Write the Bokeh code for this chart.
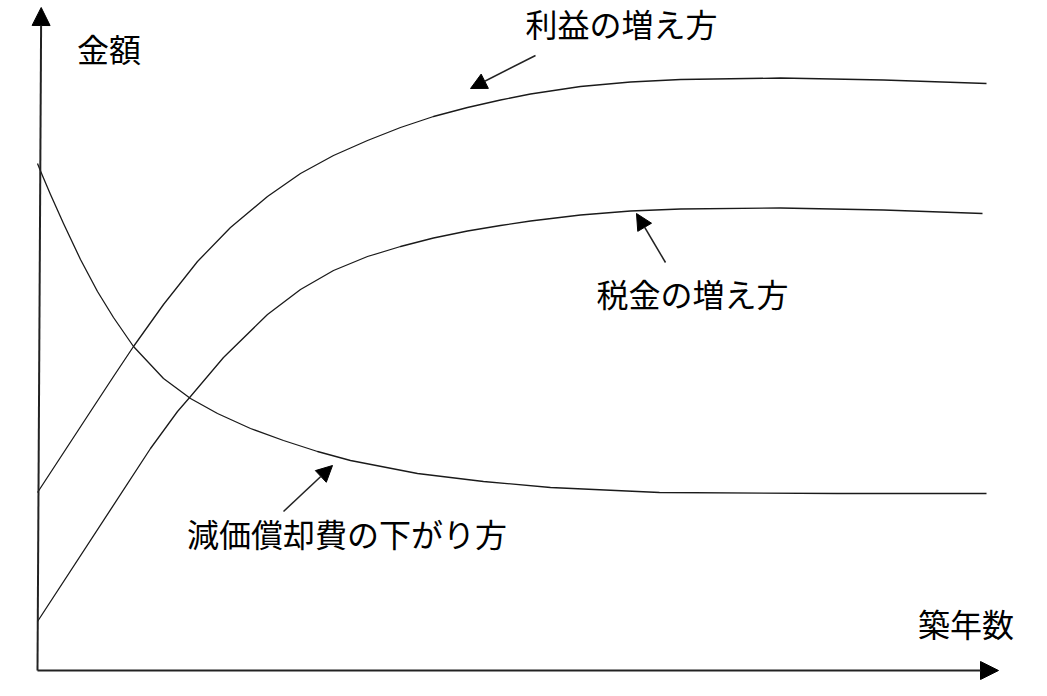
from bokeh.plotting import figure
from bokeh.models import Range1d, Arrow, NormalHead, ColumnDataSource
from bokeh.core.properties import value
from bokeh.embed import file_html
from bokeh.resources import INLINE

# ---- data (schematic units: x = building age, y = amount) ----
profit_x = [0, 53, 76, 96, 126, 160, 193, 230, 263, 296, 330, 363, 396, 430, 463, 493, 543, 593, 643, 743, 846, 949]
profit_y = [178, 259, 294, 324, 366, 409, 443, 474, 497, 515, 530, 543, 554, 563, 570.5, 576.5, 584, 588.5, 591, 592.5, 590.5, 587]

tax_x = [0, 113, 140, 153, 186, 230, 263, 296, 330, 363, 396, 430, 463, 493, 543, 593, 643, 743, 846, 945]
tax_y = [49, 222, 259, 274, 313, 356, 381, 400, 414, 424, 432.5, 439.5, 445, 449.5, 455.5, 459.5, 461.5, 462.5, 460.5, 457]

dep_x = [0, 3, 13, 26, 43, 60, 76, 96, 126, 153, 180, 213, 246, 280, 313, 380, 446, 513, 622, 800, 949]
dep_y = [507, 499.5, 476, 447, 411, 379, 353, 324, 292, 272, 257, 242, 230, 219, 210, 197, 189, 183, 178, 177, 177]

label_text = ["金額", "築年数", "利益の増え方", "税金の増え方", "減価償却費の下がり方"]
label_x = [71.5, 928.5, 584, 655, 309.5]
label_y = [623, 47.5, 648, 378, 137.5]

# annotation arrows: (start -> tip)
ann_x0 = [498, 628, 246]
ann_y0 = [615, 408, 159]
ann_x1 = [433, 599, 295]
ann_y1 = [582, 457, 205]

# axis arrows
yaxis_start = (0, 0)
yaxis_end = (3.7, 663)
xaxis_start = (0, 0)
xaxis_end = (961, 0)

p = figure(width=1031, height=680,
           x_range=Range1d(-37, 994), y_range=Range1d(-10, 670),
           x_axis_type=None, y_axis_type=None,
           output_backend="svg", toolbar_location=None, min_border=0)
p.grid.visible = False
p.outline_line_color = None
p.background_fill_color = "white"

line_col = "#1a1a1a"
for xs, ys in ((profit_x, profit_y), (tax_x, tax_y), (dep_x, dep_y)):
    p.line(xs, ys, line_color=line_col, line_width=1.3, line_join="round")

# axes with arrow heads
p.add_layout(Arrow(end=NormalHead(size=18, fill_color="black", line_color="black"),
                   x_start=yaxis_start[0], y_start=yaxis_start[1],
                   x_end=yaxis_end[0], y_end=yaxis_end[1],
                   line_color="#222222", line_width=2))
p.add_layout(Arrow(end=NormalHead(size=18, fill_color="black", line_color="black"),
                   x_start=xaxis_start[0], y_start=xaxis_start[1],
                   x_end=xaxis_end[0], y_end=xaxis_end[1],
                   line_color="#222222", line_width=2))

for x0, y0, x1, y1 in zip(ann_x0, ann_y0, ann_x1, ann_y1):
    p.add_layout(Arrow(end=NormalHead(size=16, fill_color="black", line_color="black"),
                       x_start=x0, y_start=y0, x_end=x1, y_end=y1,
                       line_color="#222222", line_width=1.5))

src = ColumnDataSource(dict(x=label_x, y=label_y, t=label_text))
p.text(x="x", y="y", text="t", source=src,
       text_font=value("Noto Sans CJK JP"), text_font_size="32px",
       text_align="center", text_baseline="middle", text_color="black")

open("out.html", "w").write(file_html(p, INLINE))
